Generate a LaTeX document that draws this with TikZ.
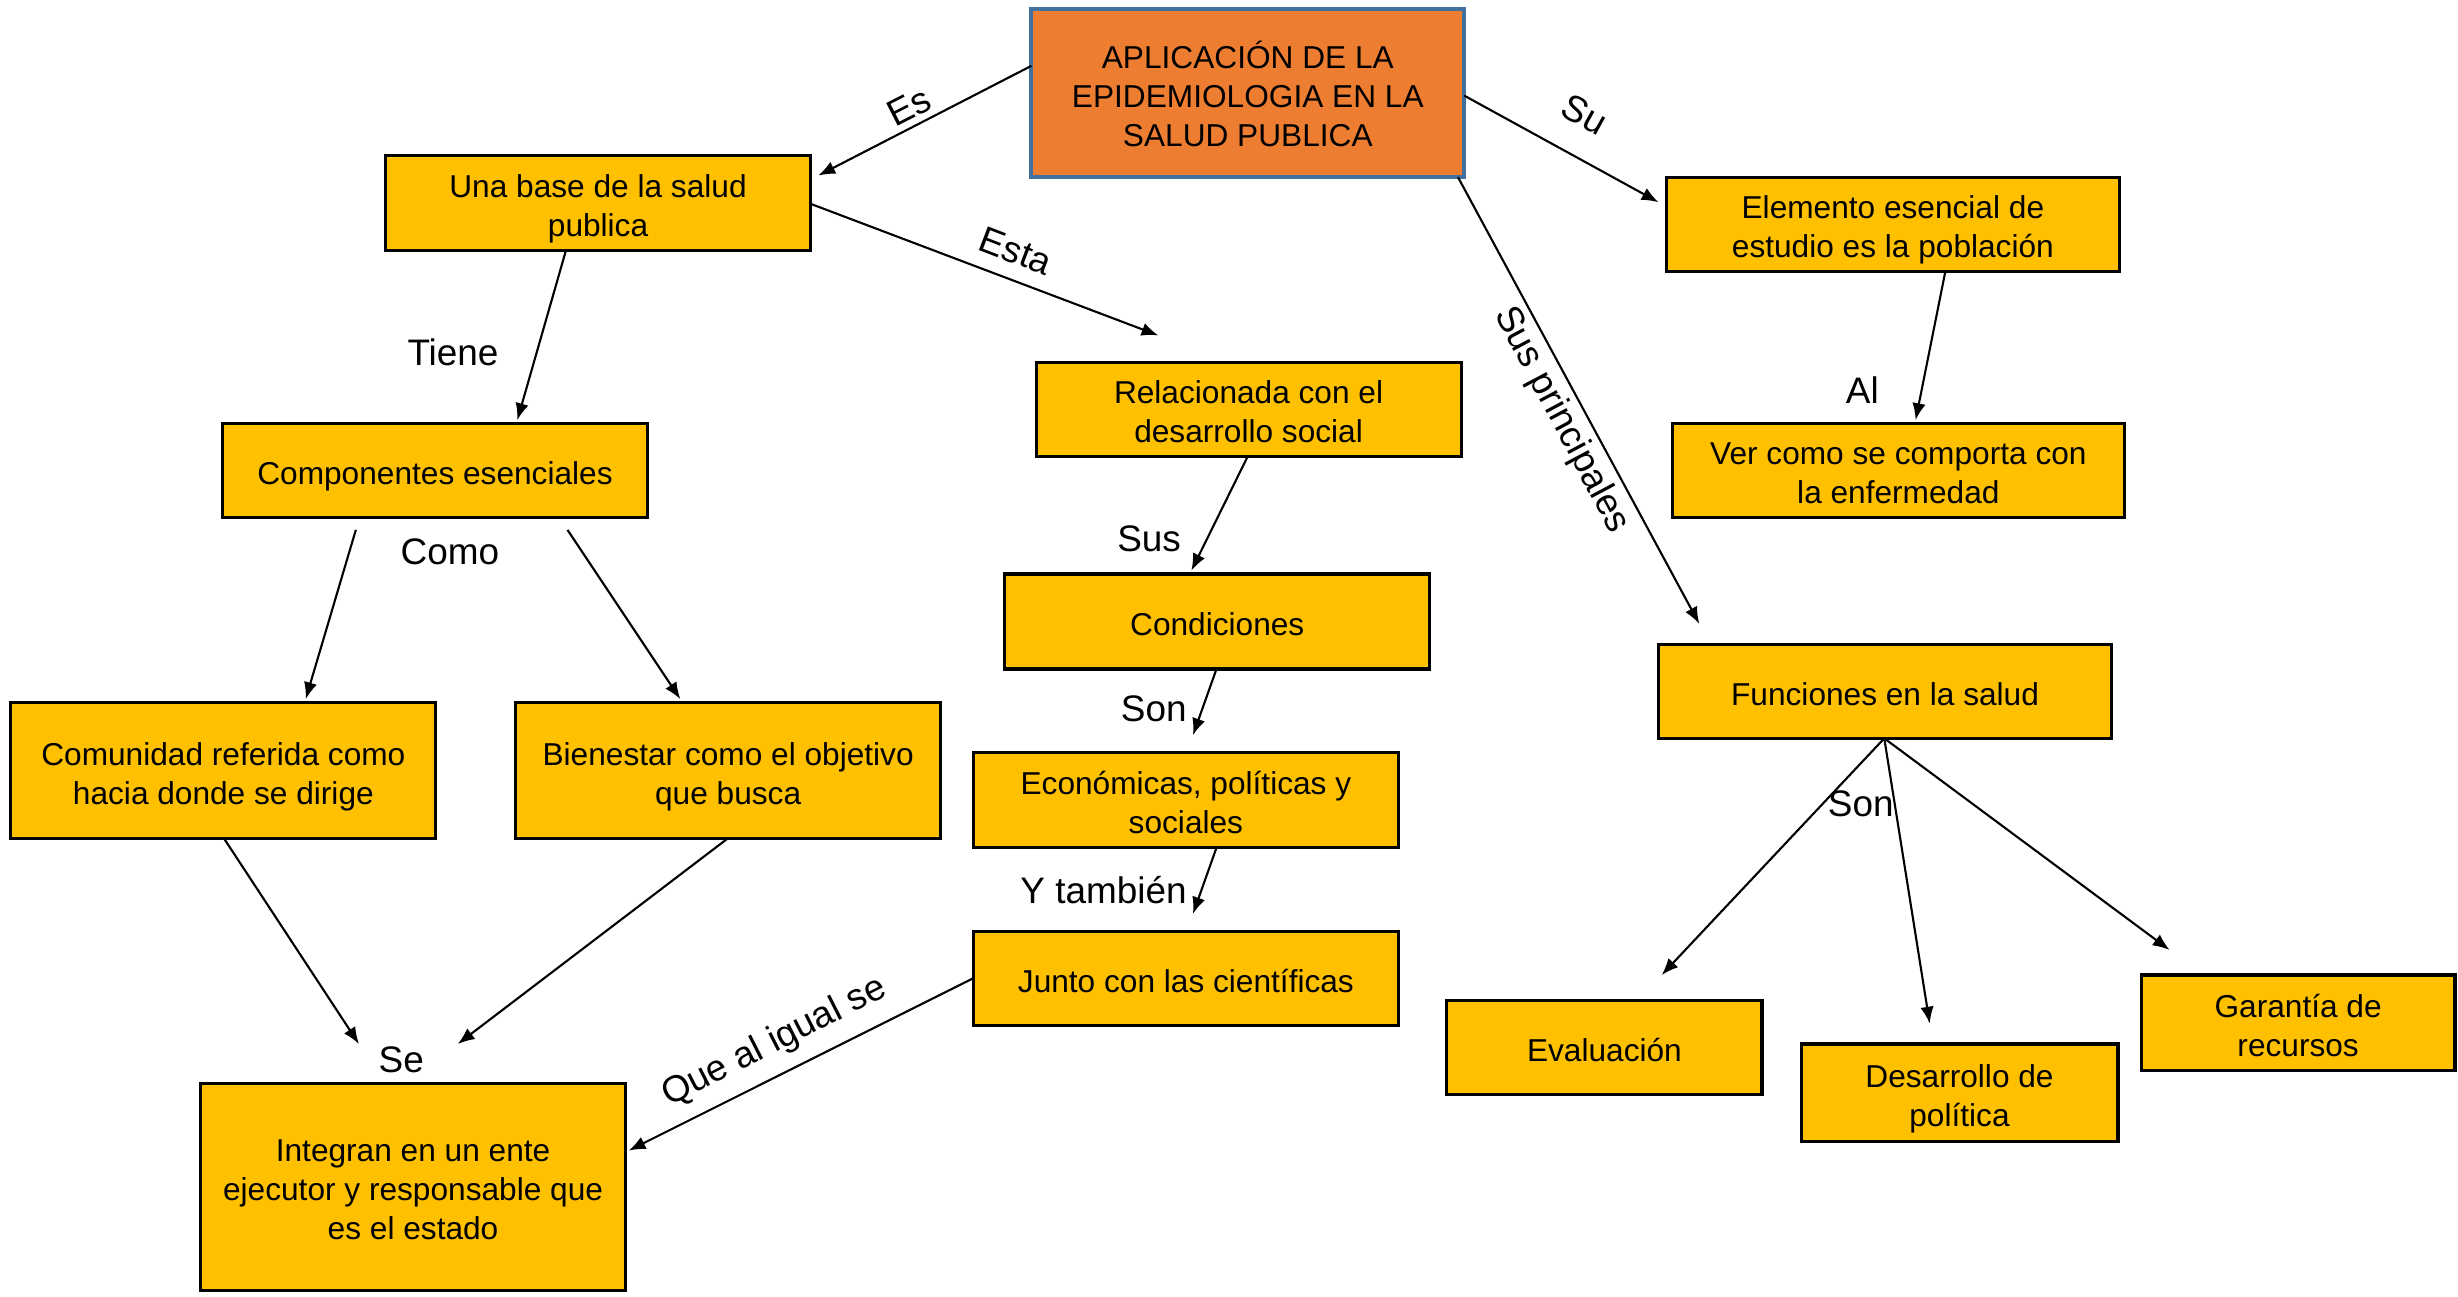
\documentclass[tikz,border=0pt]{standalone}
\usepackage{fontspec}
\setmainfont{Liberation Sans}
\usetikzlibrary{arrows.meta,calc}
\definecolor{boxfill}{HTML}{FFC000}
\definecolor{rootfill}{HTML}{ED7D31}
\definecolor{rootline}{HTML}{41719C}
\newcommand{\bt}[1]{\raisebox{0pt}[\dimexpr\height+3.6pt\relax][\depth]{\begin{tabular}{@{}c@{}}#1\end{tabular}}}
\tikzset{
  box/.style={draw=black, line width=0.9pt, fill=boxfill, inner sep=0pt, outer sep=0pt,
    font=\fontsize{9}{11.1}\selectfont, minimum width=4.248cm, minimum height=0.95cm},
  rootbox/.style={draw=rootline, line width=1.1pt, fill=rootfill, inner sep=0pt, outer sep=0pt,
    font=\fontsize{9}{11.1}\selectfont, minimum width=4.327cm, minimum height=1.677cm},
  conn/.style={line width=0.6pt, -{Latex[length=4.8pt,width=3.8pt]}},
  lbl/.style={font=\fontsize{10.5}{12}\selectfont, inner sep=0pt}
}
\begin{document}
\begin{tikzpicture}[x=0.015676cm,y=-0.015676cm]
\useasboundingbox (0,0) rectangle (1568,827);
% nodes
\node[rootbox] (root) at (796,59.5) {\bt{APLICACIÓN DE LA\\EPIDEMIOLOGIA EN LA\\SALUD PUBLICA}};
\node[box] (A) at (381.5,129.5) {\bt{Una base de la salud\\publica}};
\node[box, minimum height=0.94cm] (B) at (796.5,261) {\bt{Relacionada con el\\desarrollo social}};
\node[box, minimum height=0.94cm] (C) at (277.5,300) {\bt{Componentes esenciales}};
\node[box] (D) at (776.5,396.5) {\bt{Condiciones}};
\node[box] (E) at (756.5,510.5) {\bt{Económicas, políticas y\\sociales}};
\node[box, minimum height=0.94cm] (F) at (756.5,624) {\bt{Junto con las científicas}};
\node[box, minimum height=1.364cm] (G) at (142.5,491.5) {\bt{Comunidad referida como\\hacia donde se dirige}};
\node[box, minimum height=1.364cm] (H) at (464.5,491.5) {\bt{Bienestar como el objetivo\\que busca}};
\node[box, minimum height=2.069cm] (I) at (263.5,757) {\bt{Integran en un ente\\ejecutor y responsable que\\es el estado}};
\node[box, minimum width=4.530cm, minimum height=0.94cm] (J) at (1207.5,143) {\bt{Elemento esencial de\\estudio es la población}};
\node[box, minimum width=4.515cm, minimum height=0.94cm] (K) at (1211,300) {\bt{Ver como se comporta con\\la enfermedad}};
\node[box, minimum width=4.530cm, minimum height=0.94cm] (L) at (1202.5,441) {\bt{Funciones en la salud}};
\node[box, minimum width=3.151cm, minimum height=0.94cm] (M) at (1023.5,668) {\bt{Evaluación}};
\node[box, minimum width=3.167cm, minimum height=0.972cm] (N) at (1250,697) {\bt{Desarrollo de\\política}};
\node[box, minimum width=3.135cm, minimum height=0.956cm] (O) at (1466,652.5) {\bt{Garantía de\\recursos}};
% free ends
\coordinate (eA) at (522,112);
\coordinate (eB) at (739,214);
\coordinate (eC) at (330,268);
\coordinate (eD) at (760,364);
\coordinate (eG) at (195,446);
\coordinate (eH) at (434,446);
\coordinate (eE) at (761,469);
\coordinate (eF) at (761,583);
\coordinate (eI1) at (229,666);
\coordinate (eI2) at (292,666);
\coordinate (eI3) at (401,734);
\coordinate (eJ) at (1058,129);
\coordinate (eK) at (1222,268);
\coordinate (eL) at (1084,398);
\coordinate (eM) at (1060,622);
\coordinate (eN) at (1231,653);
\coordinate (eO) at (1384,606);
\coordinate (sC1) at (227,338);
\coordinate (sC2) at (362,338);
% connectors
\draw[conn] ($(root.west)+(0,-17.5)$) -- (eA);
\draw[conn] ($(A.east)+(0,0.5)$) -- (eB);
\draw[conn] ($(A.south)+(-20.5,0)$) -- (eC);
\draw[conn] ($(B.south)+(-0.5,0)$) -- (eD);
\draw[conn] (sC1) -- (eG);
\draw[conn] (sC2) -- (eH);
\draw[conn] ($(D.south)+(-0.5,0)$) -- (eE);
\draw[conn] ($(E.south)+(19.5,0)$) -- (eF);
\draw[conn] ($(G.south)+(0.5,0)$) -- (eI1);
\draw[conn] ($(H.south)+(-0.5,0)$) -- (eI2);
\draw[conn] (F.west) -- (eI3);
\draw[conn] ($(root.east)+(0,1.5)$) -- (eJ);
\draw[conn] ($(J.south)+(33.5,0)$) -- (eK);
\draw[conn] ($(root.south east)+(-4,0)$) -- (eL);
\draw[conn] ($(L.south)+(-0.5,0)$) -- (eM);
\draw[conn] ($(L.south)+(-0.5,0)$) -- (eN);
\draw[conn] ($(L.south)+(-0.5,0)$) -- (eO);
% labels
\node[lbl, rotate=27] (lEs) at (580,68) {Es};
\node[lbl, rotate=-21] (lEsta) at (648,160) {Esta};
\node[lbl] (lTiene) at (289,225) {Tiene};
\node[lbl] (lSus) at (733,344) {Sus};
\node[lbl] (lComo) at (287,352) {Como};
\node[lbl] (lSon1) at (736,452) {Son};
\node[lbl] (lYt) at (704,568) {Y también};
\node[lbl] (lSe) at (256,676) {Se};
\node[lbl, rotate=27] (lQue) at (494,665) {Que al igual se};
\node[lbl, rotate=-29] (lSu) at (1011,73) {Su};
\node[lbl] (lAl) at (1188,249) {Al};
\node[lbl, rotate=-62] (lSusp) at (996,268) {Sus principales};
\node[lbl] (lSon2) at (1187,513) {Son};
\end{tikzpicture}
\end{document}
